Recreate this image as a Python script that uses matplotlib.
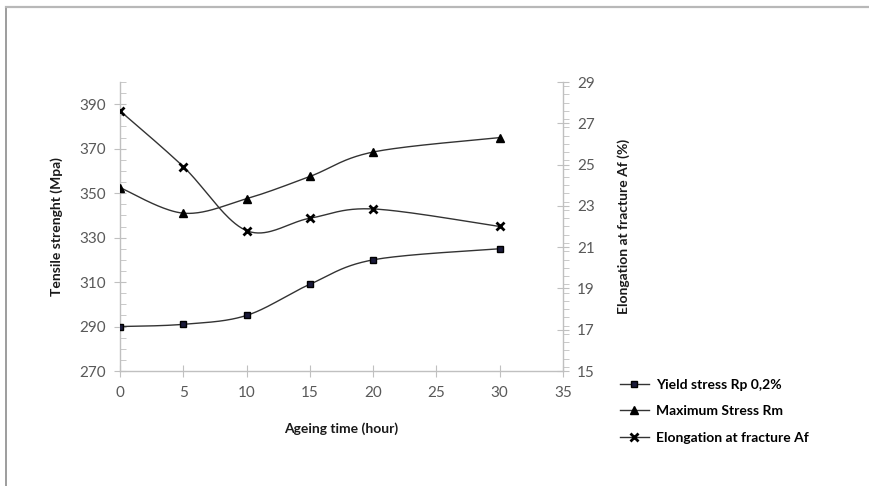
import numpy as np
import matplotlib
matplotlib.use("Agg")
import matplotlib.pyplot as plt
from matplotlib.ticker import MultipleLocator
from matplotlib.lines import Line2D

# ---- data ----
ageing_time = [0, 5, 10, 15, 20, 30]
yield_stress = [290, 291, 295, 309, 320, 325]
max_stress = [352.5, 341, 347.5, 357.5, 368.5, 375]
elongation = [27.6, 24.9, 21.8, 22.4, 22.85, 22.0]

labels = ["Yield stress Rp 0,2%", "Maximum Stress Rm", "Elongation at fracture Af"]
x_ticks = [0, 5, 10, 15, 20, 25, 30, 35]
left_ticks = [270, 290, 310, 330, 350, 370, 390]
right_ticks = [15, 17, 19, 21, 23, 25, 27, 29]

plt.rcParams['font.family'] = ['Lato', 'DejaVu Sans']


def smooth(x, y, n=40):
    """Excel-like smoothed line: Catmull-Rom cubic Bezier segments."""
    x = np.asarray(x, float)
    y = np.asarray(y, float)
    P = np.column_stack([x, y])
    out = []
    for i in range(len(P) - 1):
        p0 = P[i - 1] if i > 0 else P[i]
        p1 = P[i]
        p2 = P[i + 1]
        p3 = P[i + 2] if i + 2 < len(P) else P[i + 1]
        c1 = p1 + (p2 - p0) / 6.0
        c2 = p2 - (p3 - p1) / 6.0
        t = np.linspace(0, 1, n)[:, None]
        seg = ((1 - t) ** 3) * p1 + 3 * ((1 - t) ** 2) * t * c1 + 3 * (1 - t) * t ** 2 * c2 + t ** 3 * p2
        out.append(seg if i == 0 else seg[1:])
    s = np.vstack(out)
    return s[:, 0], s[:, 1]


W, H = 869, 486
fig = plt.figure(figsize=(W / 100, H / 100), dpi=100)
fig.patch.set_facecolor('white')

# outer border lines
fig.add_artist(Line2D([6 / W, 6 / W], [0, 1 - 7 / H], transform=fig.transFigure, color='#8c8c8c', lw=1.2))
fig.add_artist(Line2D([6 / W, 868 / W], [1 - 7 / H, 1 - 7 / H], transform=fig.transFigure, color='#b8b8b8', lw=1.6))

left, right = 120 / W, 563 / W
bottom, top = 1 - 371 / H, 1 - 82 / H
ax = fig.add_axes([left, bottom, right - left, top - bottom])
ax2 = ax.twinx()

axis_col = '#c0c0c0'
tick_col = '#595959'
line_col = '#333333'

for a in (ax, ax2):
    for s in a.spines.values():
        s.set_visible(False)
ax.spines['left'].set_visible(True)
ax.spines['bottom'].set_visible(True)
ax2.spines['right'].set_visible(True)
for s in (ax.spines['left'], ax.spines['bottom'], ax2.spines['right']):
    s.set_color(axis_col)
    s.set_linewidth(1.0)

ax.set_xlim(0, 35)
ax.set_ylim(270, 400)
ax2.set_ylim(15, 29)
ax.set_xticks(x_ticks)
ax.set_yticks(left_ticks)
ax.yaxis.set_minor_locator(MultipleLocator(5))
ax2.set_yticks(right_ticks)
ax2.yaxis.set_minor_locator(MultipleLocator(0.4))

fs = 11
ax.tick_params(axis='x', which='major', direction='inout', length=8, color=axis_col, labelsize=fs, labelcolor=tick_col, pad=7)
ax.tick_params(axis='y', which='major', direction='inout', length=8, color=axis_col, labelsize=fs, labelcolor=tick_col, pad=6)
ax.tick_params(axis='y', which='minor', direction='in', length=4, color=axis_col)
ax2.tick_params(axis='y', which='major', direction='inout', length=8, color=axis_col, labelsize=fs, labelcolor=tick_col, pad=6)
ax2.tick_params(axis='y', which='minor', direction='out', length=4, color=axis_col)

# series
sx, sy = smooth(ageing_time, yield_stress)
ax.plot(sx, sy, color=line_col, lw=1.0, zorder=3)
ax.plot(ageing_time, yield_stress, ls='none', marker='s', ms=5, mfc='#1a1a3a', mec='black', mew=1.0, zorder=4)

sx, sy = smooth(ageing_time, max_stress)
ax.plot(sx, sy, color=line_col, lw=1.0, zorder=3)
ax.plot(ageing_time, max_stress, ls='none', marker='^', ms=6, mfc='black', mec='black', zorder=4)

sx, sy = smooth(ageing_time, elongation)
ax2.plot(sx, sy, color=line_col, lw=1.0, zorder=3)
ax2.plot(ageing_time, elongation, ls='none', marker='x', ms=5.5, mec='black', mew=2.0, zorder=4)

ax.set_ylabel("Tensile strenght (Mpa)", fontsize=10, fontweight='bold', color='#1a1a1a', labelpad=12)
ax2.set_ylabel("Elongation at fracture Af (%)", fontsize=10, fontweight='bold', color='#1a1a1a', labelpad=16)
ax.set_xlabel("Ageing time (hour)", fontsize=10, fontweight='bold', color='#1a1a1a', labelpad=16)

handles = [
    Line2D([], [], color=line_col, lw=1.0, marker='s', ms=5, mfc='#1a1a3a', mec='black'),
    Line2D([], [], color=line_col, lw=1.0, marker='^', ms=6, mfc='black', mec='black'),
    Line2D([], [], color=line_col, lw=1.0, marker='x', ms=5.5, mec='black', mew=2.0),
]
fig.legend(handles, labels, loc='upper left', bbox_to_anchor=(614 / W, 1 - 373 / H), frameon=False,
           prop={'size': 10, 'weight': 'bold'}, handlelength=2.1, handletextpad=0.5, labelspacing=1.05,
           borderaxespad=0)

fig.savefig("out.png", dpi=100, facecolor='white')
